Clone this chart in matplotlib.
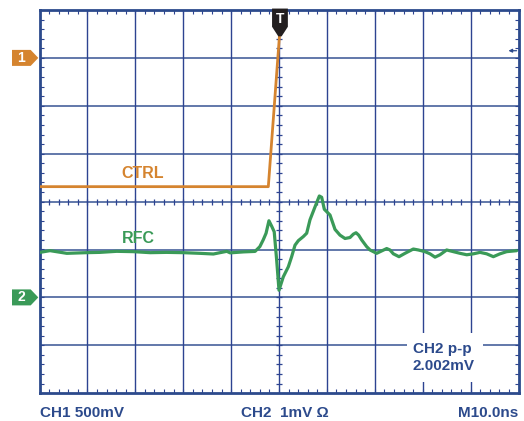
import matplotlib
matplotlib.use("Agg")
import matplotlib.pyplot as plt
from matplotlib.patches import Polygon, Rectangle
import numpy as np

# ---------------- data ----------------
# time axis: ns (10 ns/div, trigger at 0)
# CH1 (CTRL): volts, 500 mV/div, ground marker 3 div above centre
# CH2 (RFC): millivolts, 1 mV/div, ground marker 2 div below centre
ctrl_t = [-50.0, -2.23, 0.06, 0.42]
ctrl_v = [-1.344, -1.344, 0.205, 0.5]

rfc_t = [-49.9, -47.8, -44.3, -40.2, -37.4, -33.9, -30.4, -26.9, -23.5, -20.0,
         -16.5, -13.7, -10.9, -10.2, -7.4, -5.0, -4.0, -3.3, -2.7, -2.1, -1.5,
         -1.0, -0.49, 0.0, 0.9, 1.95, 2.64, 3.34, 4.04, 5.08, 5.78, 6.47, 7.52,
         8.42, 8.91, 9.46, 10.65, 11.69, 12.73, 13.78, 14.82, 15.52, 16.08,
         16.63, 17.26, 18.30, 19.0, 20.39, 21.43, 22.48, 23.17, 23.87, 25.05,
         26.30, 28.04, 29.09, 30.48, 31.52, 32.57, 33.61, 35.0, 36.4, 37.8,
         39.2, 40.6, 41.96, 43.35, 44.75, 46.14, 47.53, 49.6]
rfc_mv = [0.94, 0.976, 0.92, 0.934, 0.94, 0.962, 0.955, 0.934, 0.94, 0.934,
          0.92, 0.906, 0.962, 0.93, 0.95, 0.96, 1.06, 1.20, 1.34, 1.60, 1.48,
          1.37, 0.78, 0.15, 0.43, 0.64, 0.85, 1.09, 1.185, 1.27, 1.34, 1.62, 1.89,
          2.117, 2.09, 1.84, 1.72, 1.42, 1.30, 1.23, 1.25, 1.32, 1.35,
          1.30, 1.20, 1.06, 0.99, 0.92, 0.97, 1.02, 0.99, 0.91, 0.85,
          0.92, 1.01, 0.99, 0.955, 0.91, 0.84, 0.89, 0.99, 0.955, 0.92,
          0.89, 0.91, 0.94, 0.91, 0.85, 0.91, 0.955, 0.975]

ch1_scale, ch1_pos = 0.5, 3.0    # V/div, div
ch2_scale, ch2_pos = 1.0, -2.0   # mV/div, div

labels_bottom = ["CH1 500mV", "CH2  1mV \u03a9", "M10.0ns"]
meas_text = ["CH2 p-p", "2.002mV"]
trace_labels = ["CTRL", "RFC"]

# ---------------- style ----------------
ORANGE = "#d5842f"
GREEN = "#3a9a58"
NAVY = "#2c4a8c"
GRID_H = "#6178aa"
GRID_V = "#2d4391"
plt.rcParams["font.family"] = ["Liberation Sans", "DejaVu Sans"]

fig = plt.figure(figsize=(5.24, 4.21), dpi=100)
ax = fig.add_axes([39.5 / 524, 1 - 393.2 / 421, 479 / 524, 383.2 / 421])
ax.set_xlim(-50, 50)
ax.set_ylim(-4, 4)

# grid
for y in range(-3, 4):
    ax.axhline(y, color=GRID_H, lw=1.4, zorder=1)
for x in range(-40, 50, 10):
    ax.axvline(x, color=GRID_V, lw=1.0, zorder=1)

# centre-line minor ticks
xt = np.arange(-48, 50, 2)
ax.plot(xt, np.zeros_like(xt), ls="none", marker="|", ms=4, mew=0.9, color=GRID_V, zorder=1.5)
yt = np.arange(-3.8, 4, 0.2)
ax.plot(np.zeros_like(yt), yt, ls="none", marker="_", ms=4, mew=0.9, color=GRID_V, zorder=1.5)

# edge ticks
ax.set_xticks(np.arange(-48, 50, 2))
ax.set_yticks(np.arange(-3.8, 4, 0.2))
ax.tick_params(axis="both", which="both", direction="in", length=3.0, width=0.8,
               color=GRID_V, top=True, right=True, labelbottom=False, labelleft=False)
for s in ax.spines.values():
    s.set_color(NAVY)
    s.set_linewidth(2.0)

# traces
ctrl_div = np.array(ctrl_v) / ch1_scale + ch1_pos
rfc_div = np.array(rfc_mv) / ch2_scale + ch2_pos
ax.plot(ctrl_t, ctrl_div, color=ORANGE, lw=2.0, zorder=4, solid_joinstyle="round")
ax.plot(rfc_t, rfc_div, color=GREEN, lw=2.3, zorder=4, solid_joinstyle="round",
        solid_capstyle="round")

ax.text(-28.5, 0.59, trace_labels[0], color=ORANGE, fontsize=11.5, fontweight="bold",
        ha="center", va="center", zorder=5)
ax.text(-29.4, -0.76, trace_labels[1], color=GREEN, fontsize=11.5, fontweight="bold",
        ha="center", va="center", zorder=5)

# measurement box
ax.add_patch(Rectangle((26.72, -3.766), 15.87, 1.023, facecolor="white",
                       edgecolor="none", zorder=2))
ax.text(27.97, -3.161, meas_text[0], color=NAVY, fontsize=11, fontweight="bold",
        ha="left", va="baseline", zorder=5)
ax.text(27.97, -3.516, meas_text[1], color=NAVY, fontsize=11, fontweight="bold",
        ha="left", va="baseline", zorder=5)

# channel markers (left)
def ch_marker(ypos, color, label):
    h = 0.167
    poly = Polygon([(-55.74, ypos - h), (-51.84, ypos - h), (-50.25, ypos),
                    (-51.84, ypos + h), (-55.74, ypos + h)], closed=True,
                   facecolor=color, edgecolor="none", clip_on=False, zorder=6)
    ax.add_patch(poly)
    ax.text(-53.85, ypos, label, color="white", fontsize=10, fontweight="bold",
            ha="center", va="center", clip_on=False, zorder=7)

ch_marker(ch1_pos, ORANGE, "1")
ch_marker(ch2_pos, GREEN, "2")

# trigger marker (top)
tpoly = Polygon([(-1.45, 4.03), (1.85, 4.03), (1.85, 3.65), (0.55, 3.45),
                 (-0.15, 3.45), (-1.45, 3.65)], closed=True,
                facecolor="#231f20", edgecolor="none", clip_on=False, zorder=8)
ax.add_patch(tpoly)
ax.text(0.2, 3.81, "T", color="white", fontsize=10, fontweight="bold",
        ha="center", va="center", zorder=9)

# trigger level arrow (right)
ax.annotate("", xy=(47.9, 3.15), xytext=(49.6, 3.15),
            arrowprops=dict(arrowstyle="-|>", color=NAVY, lw=0.9,
                            mutation_scale=5, shrinkA=0, shrinkB=0), zorder=6)

# bottom labels
fig.text(40 / 524, 1 - 417.3 / 421, labels_bottom[0], color=NAVY, fontsize=11,
         fontweight="bold", ha="left", va="baseline")
fig.text(241 / 524, 1 - 417.3 / 421, labels_bottom[1], color=NAVY, fontsize=11,
         fontweight="bold", ha="left", va="baseline")
fig.text(518.5 / 524, 1 - 417.3 / 421, labels_bottom[2], color=NAVY, fontsize=11,
         fontweight="bold", ha="right", va="baseline")

fig.savefig("out.png", dpi=100, facecolor="white")
